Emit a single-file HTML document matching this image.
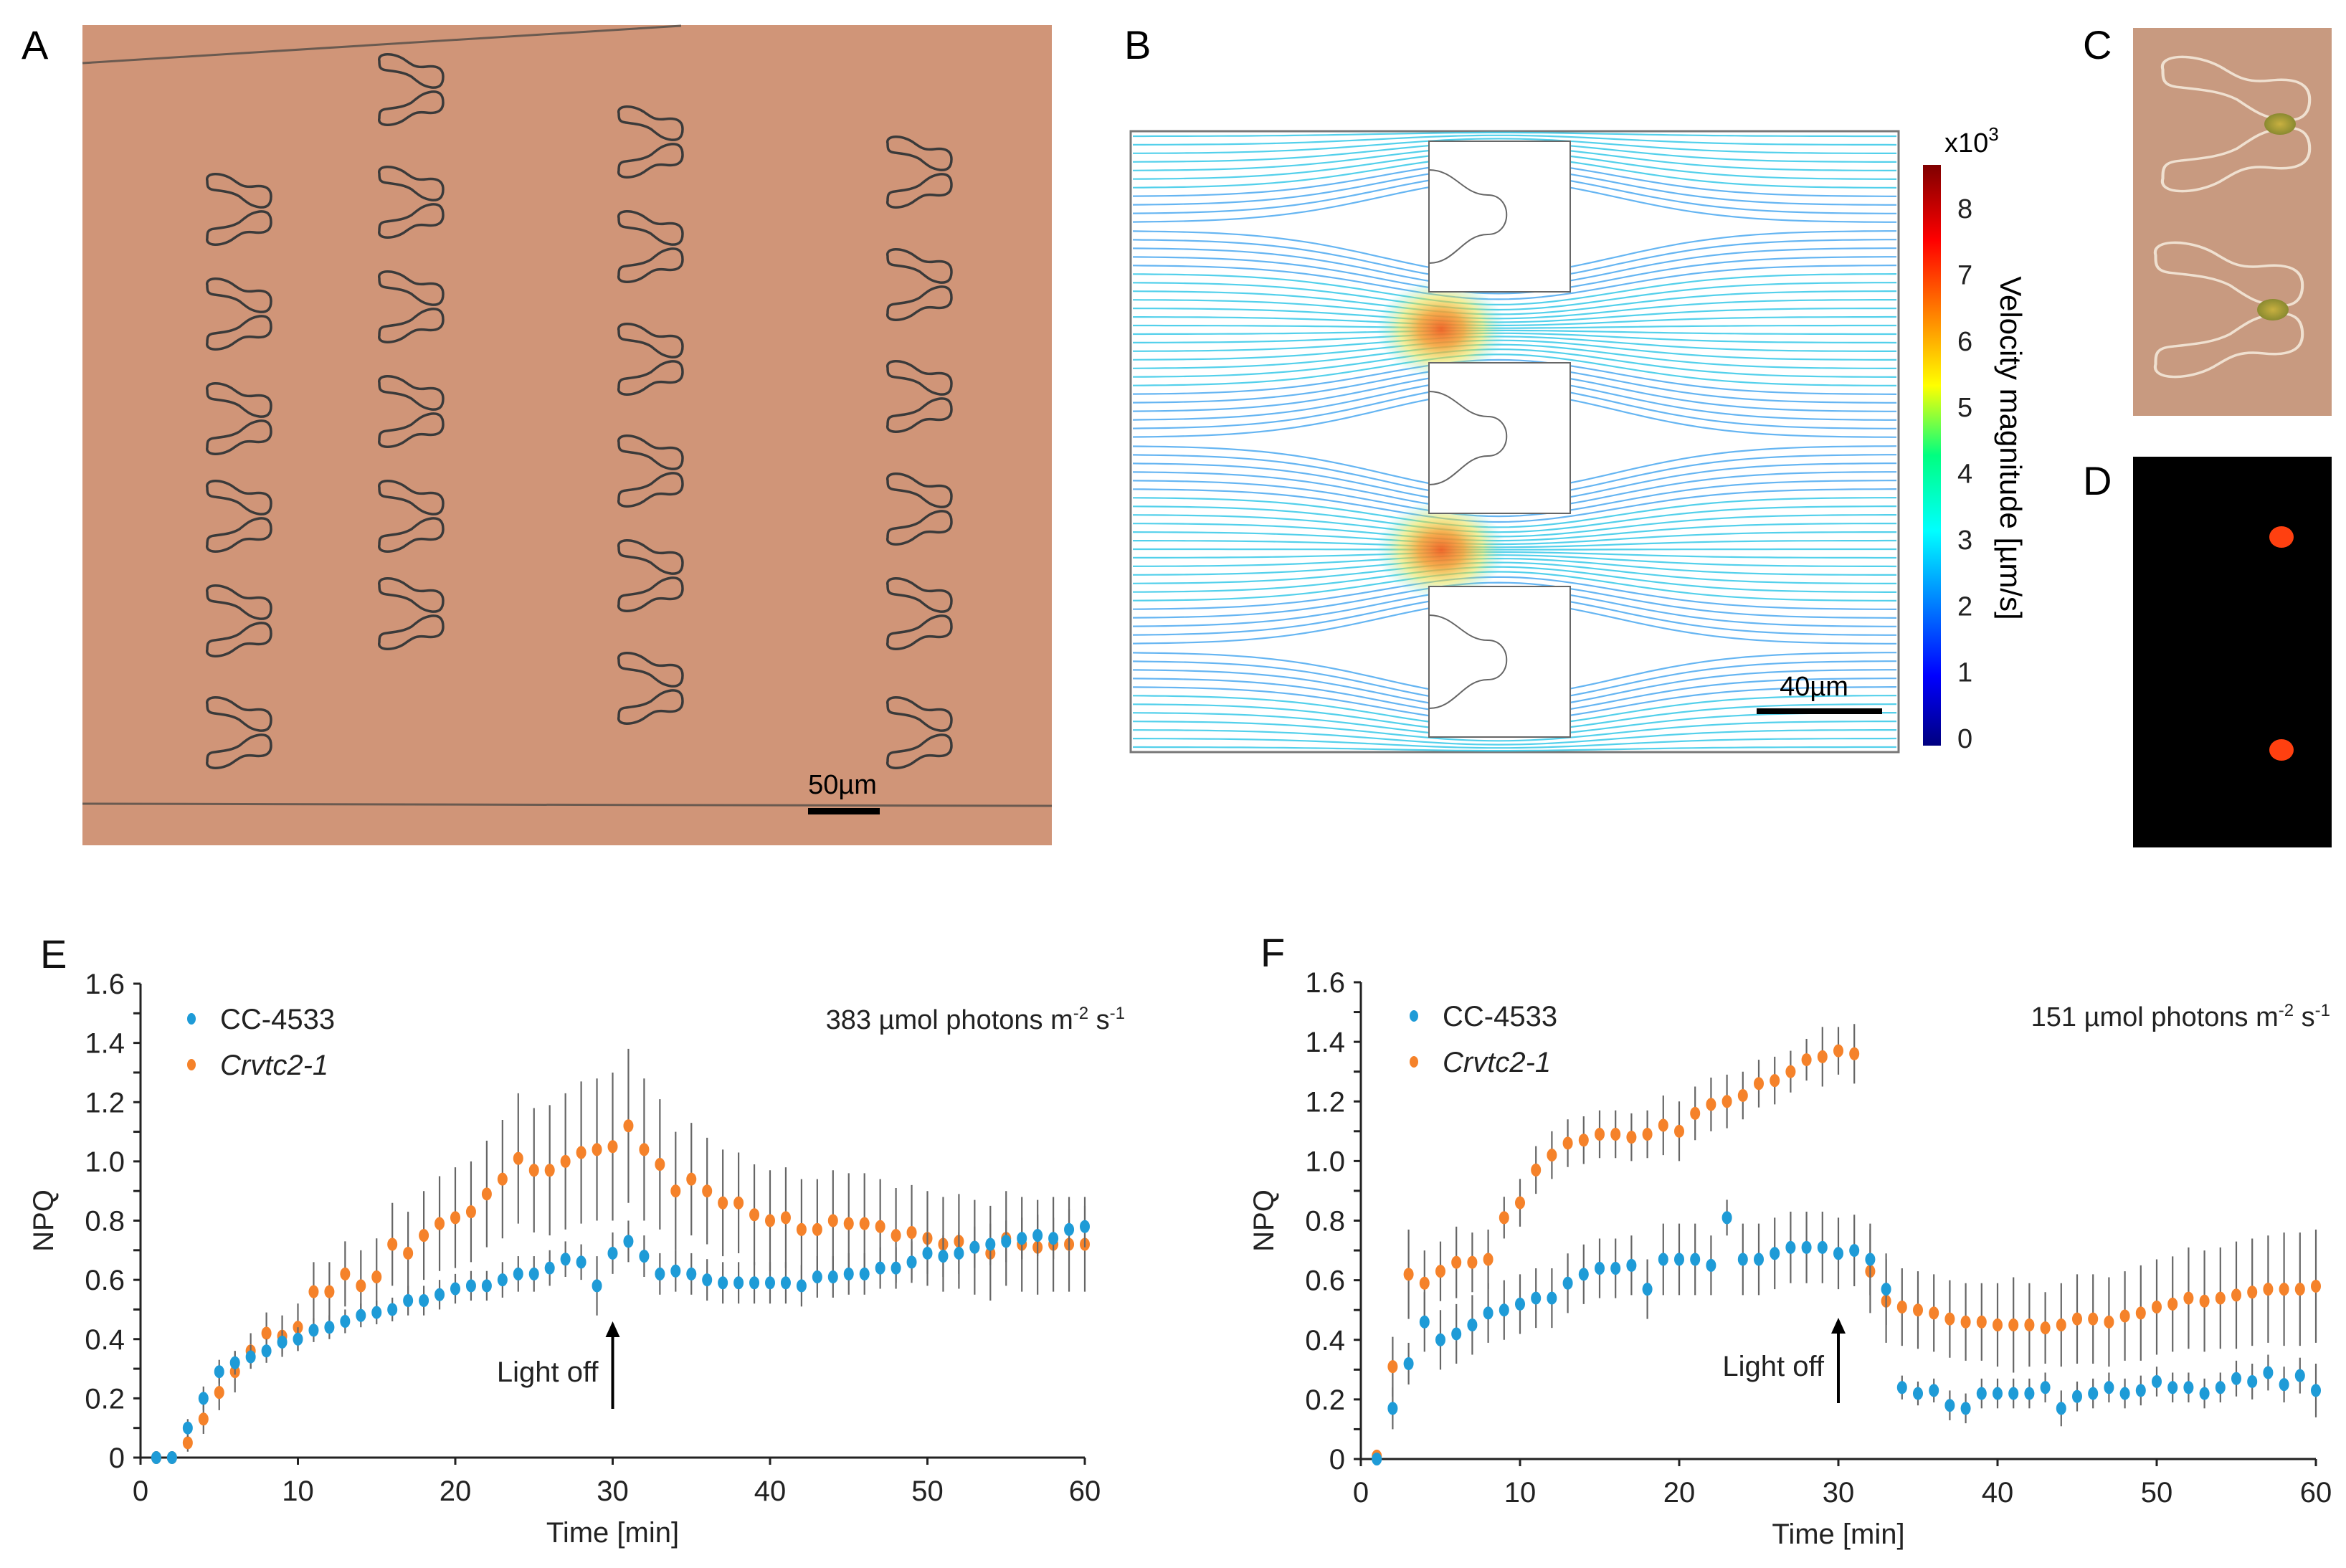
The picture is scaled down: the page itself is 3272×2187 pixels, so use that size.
<!DOCTYPE html>
<html><head><meta charset="utf-8">
<style>
html,body{margin:0;padding:0;background:#fff;}
svg{display:block;}
text{font-family:"Liberation Sans",sans-serif;}
</style></head>
<body>
<svg id="fig" width="3272" height="2187" viewBox="0 0 3272 2187" xmlns="http://www.w3.org/2000/svg">
<defs>
  <radialGradient id="hot" cx="50%" cy="50%" r="50%">
    <stop offset="0" stop-color="#f06020" stop-opacity="0.95"/>
    <stop offset="0.35" stop-color="#f5a030" stop-opacity="0.85"/>
    <stop offset="0.65" stop-color="#e8e040" stop-opacity="0.5"/>
    <stop offset="1" stop-color="#40e0e0" stop-opacity="0"/>
  </radialGradient>
  <linearGradient id="cbar" x1="0" y1="1" x2="0" y2="0">
    <stop offset="0" stop-color="#00007f"/>
    <stop offset="0.12" stop-color="#0000ff"/>
    <stop offset="0.37" stop-color="#00ffff"/>
    <stop offset="0.5" stop-color="#00ff80"/>
    <stop offset="0.62" stop-color="#ffff00"/>
    <stop offset="0.87" stop-color="#ff0000"/>
    <stop offset="1" stop-color="#7f0000"/>
  </linearGradient>
  <radialGradient id="cell" cx="50%" cy="50%" r="50%">
    <stop offset="0" stop-color="#c8b040"/>
    <stop offset="1" stop-color="#8a8a30"/>
  </radialGradient>
</defs>

<!-- Panel A -->
<g>
  <text x="30" y="82" font-size="56">A</text>
  <rect x="115" y="35" width="1352" height="1144" fill="#d09578"/>
  <line x1="115" y1="88" x2="950" y2="36" stroke="#6a5a50" stroke-width="3"/>
  <line x1="115" y1="1121" x2="1467" y2="1124" stroke="#6a5a50" stroke-width="3"/>
  <g id="trapsA"></g>
  <rect x="1127" y="1127" width="100" height="9" fill="#000"/>
  <text x="1175" y="1107" font-size="38" text-anchor="middle">50µm</text>
</g>

<!-- Panel B -->
<g>
  <text x="1568" y="82" font-size="56">B</text>
  <rect x="1577" y="183" width="1071" height="866" fill="#fff" stroke="#777" stroke-width="3"/>
  <g id="stream"></g>
  <ellipse cx="2010" cy="459" rx="90" ry="70" fill="url(#hot)"/>
  <ellipse cx="2010" cy="767" rx="90" ry="70" fill="url(#hot)"/>
  <g id="obst"></g>
  <rect x="2450" y="988" width="175" height="8" fill="#000"/>
  <text x="2530" y="970" font-size="38" text-anchor="middle">40µm</text>
  <rect x="2682" y="230" width="25" height="810" fill="url(#cbar)"/>
  <g id="cbticks"></g>
  <text x="2712" y="212" font-size="38">x10<tspan font-size="26" dy="-16">3</tspan></text>
  <text transform="translate(2790,625) rotate(90)" font-size="42" text-anchor="middle">Velocity magnitude [µm/s]</text>
</g>

<!-- Panel C, D -->
<g>
  <text x="2905" y="82" font-size="56">C</text>
  <rect x="2975" y="39" width="277" height="541" fill="#c89a80"/>
  <g id="trapsC"></g>
</g>
<g>
  <text x="2905" y="690" font-size="56">D</text>
  <rect x="2975" y="637" width="277" height="545" fill="#000"/>
  <ellipse cx="3182" cy="749" rx="17" ry="15" fill="#ff4010"/>
  <ellipse cx="3182" cy="1046" rx="17" ry="15" fill="#ff4010"/>
</g>

<g id="chartE"></g>
<g id="chartF"></g>
</svg>

<script>
// ---------- Chart data ----------
const minutes = Array.from({length:60},(_,i)=>i+1);
const yTickLabels = ["0","0.2","0.4","0.6","0.8","1.0","1.2","1.4","1.6"];
const xTickLabels = ["0","10","20","30","40","50","60"];

const eBlue = [0,0,0.10,0.20,0.29,0.32,0.34,0.36,0.39,0.40,0.43,0.44,0.46,0.48,0.49,0.50,0.53,0.53,0.55,0.57,0.58,0.58,0.60,0.62,0.62,0.64,0.67,0.66,0.58,0.69,0.73,0.68,0.62,0.63,0.62,0.60,0.59,0.59,0.59,0.59,0.59,0.58,0.61,0.61,0.62,0.62,0.64,0.64,0.66,0.69,0.68,0.69,0.71,0.72,0.73,0.74,0.75,0.74,0.77,0.78];
const eBlueErr = [0,0,0.03,0.04,0.04,0.04,0.04,0.04,0.04,0.04,0.04,0.04,0.04,0.04,0.04,0.04,0.05,0.05,0.05,0.05,0.05,0.05,0.06,0.06,0.06,0.06,0.06,0.06,0.1,0.07,0.07,0.07,0.07,0.07,0.07,0.07,0.07,0.07,0.07,0.07,0.07,0.07,0.07,0.07,0.07,0.07,0.07,0.07,0.07,0.07,0.07,0.07,0.07,0.07,0.07,0.07,0.07,0.07,0.07,0.07];
const eOrange = [0,0,0.05,0.13,0.22,0.29,0.36,0.42,0.41,0.44,0.56,0.56,0.62,0.58,0.61,0.72,0.69,0.75,0.79,0.81,0.83,0.89,0.94,1.01,0.97,0.97,1.00,1.03,1.04,1.05,1.12,1.04,0.99,0.90,0.94,0.90,0.86,0.86,0.82,0.80,0.81,0.77,0.77,0.80,0.79,0.79,0.78,0.75,0.76,0.74,0.72,0.73,0.71,0.69,0.74,0.72,0.71,0.72,0.72,0.72];
const eOrangeErr = [0,0,0.03,0.05,0.06,0.07,0.06,0.07,0.07,0.08,0.1,0.1,0.11,0.12,0.13,0.14,0.14,0.15,0.16,0.17,0.17,0.18,0.2,0.22,0.21,0.22,0.23,0.24,0.24,0.25,0.26,0.24,0.22,0.2,0.19,0.18,0.18,0.17,0.17,0.17,0.17,0.17,0.17,0.17,0.17,0.17,0.16,0.16,0.16,0.16,0.16,0.16,0.16,0.16,0.16,0.16,0.16,0.16,0.16,0.16];

const fBlue = [0,0.17,0.32,0.46,0.40,0.42,0.45,0.49,0.50,0.52,0.54,0.54,0.59,0.62,0.64,0.64,0.65,0.57,0.67,0.67,0.67,0.65,0.81,0.67,0.67,0.69,0.71,0.71,0.71,0.69,0.70,0.67,0.57,0.24,0.22,0.23,0.18,0.17,0.22,0.22,0.22,0.22,0.24,0.17,0.21,0.22,0.24,0.22,0.23,0.26,0.24,0.24,0.22,0.24,0.27,0.26,0.29,0.25,0.28,0.23];
const fBlueErr = [0,0.07,0.07,0.1,0.1,0.1,0.1,0.1,0.1,0.1,0.1,0.1,0.1,0.1,0.1,0.1,0.1,0.1,0.12,0.12,0.12,0.1,0.06,0.12,0.12,0.12,0.12,0.12,0.12,0.12,0.12,0.12,0.12,0.04,0.04,0.04,0.05,0.05,0.05,0.05,0.05,0.05,0.05,0.06,0.05,0.05,0.05,0.05,0.05,0.05,0.05,0.05,0.05,0.05,0.06,0.06,0.06,0.06,0.06,0.09];
const fOrange = [0.01,0.31,0.62,0.59,0.63,0.66,0.66,0.67,0.81,0.86,0.97,1.02,1.06,1.07,1.09,1.09,1.08,1.09,1.12,1.10,1.16,1.19,1.20,1.22,1.26,1.27,1.30,1.34,1.35,1.37,1.36,0.63,0.53,0.51,0.50,0.49,0.47,0.46,0.46,0.45,0.45,0.45,0.44,0.45,0.47,0.47,0.46,0.48,0.49,0.51,0.52,0.54,0.53,0.54,0.55,0.56,0.57,0.57,0.57,0.58];
const fOrangeErr = [0,0.1,0.15,0.11,0.1,0.12,0.1,0.1,0.07,0.08,0.08,0.08,0.08,0.08,0.08,0.08,0.08,0.08,0.1,0.1,0.09,0.09,0.09,0.08,0.08,0.08,0.07,0.07,0.1,0.08,0.1,0.14,0.14,0.13,0.13,0.13,0.13,0.13,0.13,0.14,0.16,0.14,0.12,0.14,0.15,0.15,0.15,0.15,0.16,0.16,0.16,0.17,0.17,0.17,0.18,0.18,0.18,0.19,0.19,0.19];

const colorbarTicks = ["0","1","2","3","4","5","6","7","8"];

const NS="http://www.w3.org/2000/svg";
function mk(tag, attrs, parent){const e=document.createElementNS(NS,tag);for(const k in attrs)e.setAttribute(k,attrs[k]);if(parent)parent.appendChild(e);return e;}

function drawChart(g, cfg){
  const xs = v => cfg.x0 + (v/60)*(cfg.x1-cfg.x0);
  const ys = v => cfg.y0 - (v/1.6)*(cfg.y0-cfg.y1);
  let ax = mk('line',{x1:cfg.x0,y1:cfg.y0,x2:cfg.x1,y2:cfg.y0,stroke:'#222','stroke-width':3},g);
  
  
  let ay = mk('line',{x1:cfg.x0,y1:cfg.y0,x2:cfg.x0,y2:cfg.y1,stroke:'#222','stroke-width':3},g);
  
  
  for(let i=0;i<=16;i++){
    const v=i*0.1, y=ys(v);
    const t=mk('line',{x1:cfg.x0-10,y1:y,x2:cfg.x0,y2:y,stroke:'#222','stroke-width':3},g);
    
    
  }
  yTickLabels.forEach((lab,i)=>{
    const t=mk('text',{x:cfg.x0-22,y:ys(i*0.2)+14,'font-size':40,'text-anchor':'end',fill:'#222'},g);
    t.textContent=lab;
    
    
  });
  xTickLabels.forEach((lab,i)=>{
    const x=xs(i*10);
    const tk=mk('line',{x1:x,y1:cfg.y0,x2:x,y2:cfg.y0+10,stroke:'#222','stroke-width':3},g);
    
    
    const t=mk('text',{x:x,y:cfg.y0+60,'font-size':40,'text-anchor':'middle',fill:'#222'},g);
    t.textContent=lab;
    
    
  });
  const xt=mk('text',{x:(cfg.x0+cfg.x1)/2,y:cfg.y0+118,'font-size':40,'text-anchor':'middle',fill:'#222'},g);
  xt.textContent='Time [min]';
  
  
  const yt=mk('text',{transform:`translate(${cfg.x0-122},${ys(0.8)}) rotate(-90)`,'font-size':40,'text-anchor':'middle',fill:'#222'},g);
  yt.textContent='NPQ';
  
  
  const pl=mk('text',{x:cfg.x0-140,y:cfg.y1-22,'font-size':56,fill:'#111'},g);
  pl.textContent=cfg.letter;
  
  
  const series=[[cfg.orange,cfg.orangeErr,'#f5822a','series-crvtc2'],[cfg.blue,cfg.blueErr,'#1e9bd7','series-cc4533']];
  series.forEach(([vals,errs,col,nm])=>{
    const sg=mk('g',{},g);
    
    
    vals.forEach((v,i)=>{
      const x=xs(minutes[i]);
      if(errs[i]>0){
        const el=mk('line',{x1:x,y1:ys(v-errs[i]),x2:x,y2:ys(v+errs[i]),stroke:'#666','stroke-width':2.2},sg);
        
        
      }
      const c=mk('ellipse',{cx:x,cy:ys(v),rx:7,ry:9,fill:col},sg);
      
      
    });
  });
  const lg=mk('g',{},g);
  
  
  [['CC-4533','#1e9bd7','normal',0],['Crvtc2-1','#f5822a','italic',1]].forEach(([lab,col,st,i])=>{
    const yy=cfg.legY+i*64;
    const d=mk('ellipse',{cx:cfg.legX,cy:yy,rx:6,ry:8,fill:col},lg);
    
    
    const t=mk('text',{x:cfg.legX+40,y:yy+14,'font-size':40,'font-style':st,fill:'#222'},lg);
    t.textContent=lab;
    
    
  });
  const cond=mk('text',{x:cfg.condX,y:cfg.legY+14,'font-size':38,'text-anchor':'end',fill:'#222'},g);
  cond.innerHTML=cfg.cond+' µmol photons m<tspan dy="-14" font-size="24">-2</tspan><tspan dy="14"> s</tspan><tspan dy="-14" font-size="24">-1</tspan>';
  
  
  const ax30=xs(30);
  const ar=mk('line',{x1:ax30,y1:cfg.arrowBot,x2:ax30,y2:cfg.arrowTop+14,stroke:'#000','stroke-width':4},g);
  
  
  const ah=mk('path',{d:`M${ax30-10},${cfg.arrowTop+22} L${ax30},${cfg.arrowTop} L${ax30+10},${cfg.arrowTop+22} Z`,fill:'#000'},g);
  
  
  const lo=mk('text',{x:ax30-20,y:cfg.arrowBot-38,'font-size':40,'text-anchor':'end',fill:'#222'},g);
  lo.textContent='Light off';
  
  
}

drawChart(document.getElementById('chartE'),{x0:196,x1:1513,y0:2033,y1:1372,letter:'E',blue:eBlue,blueErr:eBlueErr,orange:eOrange,orangeErr:eOrangeErr,legX:267,legY:1421,condX:1569,cond:'383',arrowTop:1843,arrowBot:1965});
drawChart(document.getElementById('chartF'),{x0:1898,x1:3230,y0:2035,y1:1370,letter:'F',blue:fBlue,blueErr:fBlueErr,orange:fOrange,orangeErr:fOrangeErr,legX:1972,legY:1417,condX:3250,cond:'151',arrowTop:1838,arrowBot:1957});

// ---------- Panel B decorations ----------
(function(){
  const sg=document.getElementById('stream');
  const gaps=[183,459,767,1049];
  for(let y0=190;y0<1046;y0+=12){
    let nearest=gaps.reduce((a,b)=>Math.abs(b-y0)<Math.abs(a-y0)?b:a);
    const dist=Math.abs(nearest-y0);
    let d='';
    for(let x=1580;x<=2645;x+=15){
      const w=Math.exp(-Math.pow((x-2090)/230,2));
      const y=y0+(nearest-y0)*0.75*w*Math.exp(-dist/260);
      d+=(d?'L':'M')+x+','+y.toFixed(1);
    }
    const col = dist<80?'#35c8e8':(dist<170?'#4aa8f0':'#6a8fe8');
    const p=mk('path',{d:d,fill:'none',stroke:col,'stroke-width':2.2,opacity:0.85},sg);
    
    
  }
  const og=document.getElementById('obst');
  [197,506,818].forEach(top=>{
    const h=210;
    const r=mk('rect',{x:1993,y:top,width:197,height:h,fill:'#fff',stroke:'#666','stroke-width':2},og);
    
    
    const p=mk('path',{d:`M1993,${top+40} C2030,${top+40} 2040,${top+75} 2075,${top+75} C2110,${top+75} 2110,${top+h-80} 2075,${top+h-80} C2040,${top+h-80} 2030,${top+h-40} 1993,${top+h-40}`,fill:'none',stroke:'#666','stroke-width':2},og);
    
    
  });
  const cb=document.getElementById('cbticks');
  colorbarTicks.forEach((lab,i)=>{
    const y=1029-i*(1029-290)/8;
    const t=mk('text',{x:2730,y:y+14,'font-size':38,fill:'#222'},cb);
    t.textContent=lab;
    
    
  });
})();

// ---------- Panel A / C traps ----------
(function(){
  const lobe='M-45,-40 C-48,-52 -25,-52 -10,-42 C0,-35 5,-30 20,-32 C35,-34 44,-30 44,-18 C44,-6 38,-2 28,-3 C15,-5 10,-10 0,-18 C-10,-24 -20,-25 -35,-27 C-45,-28 -45,-33 -45,-40 Z';
  const ta=document.getElementById('trapsA');
  const cols=[[334,[292,438,584,720,866,1022]],[574,[125,282,428,574,720,856]],[908,[198,344,501,657,803,960]],[1283,[240,397,553,710,856,1022]]];
  cols.forEach(([cx,rows])=>rows.forEach(cy=>{
    const g=mk('g',{transform:`translate(${cx},${cy})`},ta);
    
    
    mk('path',{d:lobe,fill:'none',stroke:'#3a3a3a','stroke-width':3.5},g);
    mk('path',{d:lobe,transform:'scale(1,-1)',fill:'none',stroke:'#3a3a3a','stroke-width':3.5},g);
  }));
  const tc=document.getElementById('trapsC');
  [[3120,173],[3110,432]].forEach(([cx,cy])=>{
    const g=mk('g',{transform:`translate(${cx},${cy}) scale(2.3,1.9)`},tc);
    
    
    mk('path',{d:lobe,fill:'none',stroke:'#efe0d0','stroke-width':1.8},g);
    mk('path',{d:lobe,transform:'scale(1,-1)',fill:'none',stroke:'#efe0d0','stroke-width':1.8},g);
    const c=mk('ellipse',{cx:cx+60,cy:cy,rx:22,ry:15,fill:'url(#cell)'},tc);
    
    
  });
})();
</script>
</body></html>
